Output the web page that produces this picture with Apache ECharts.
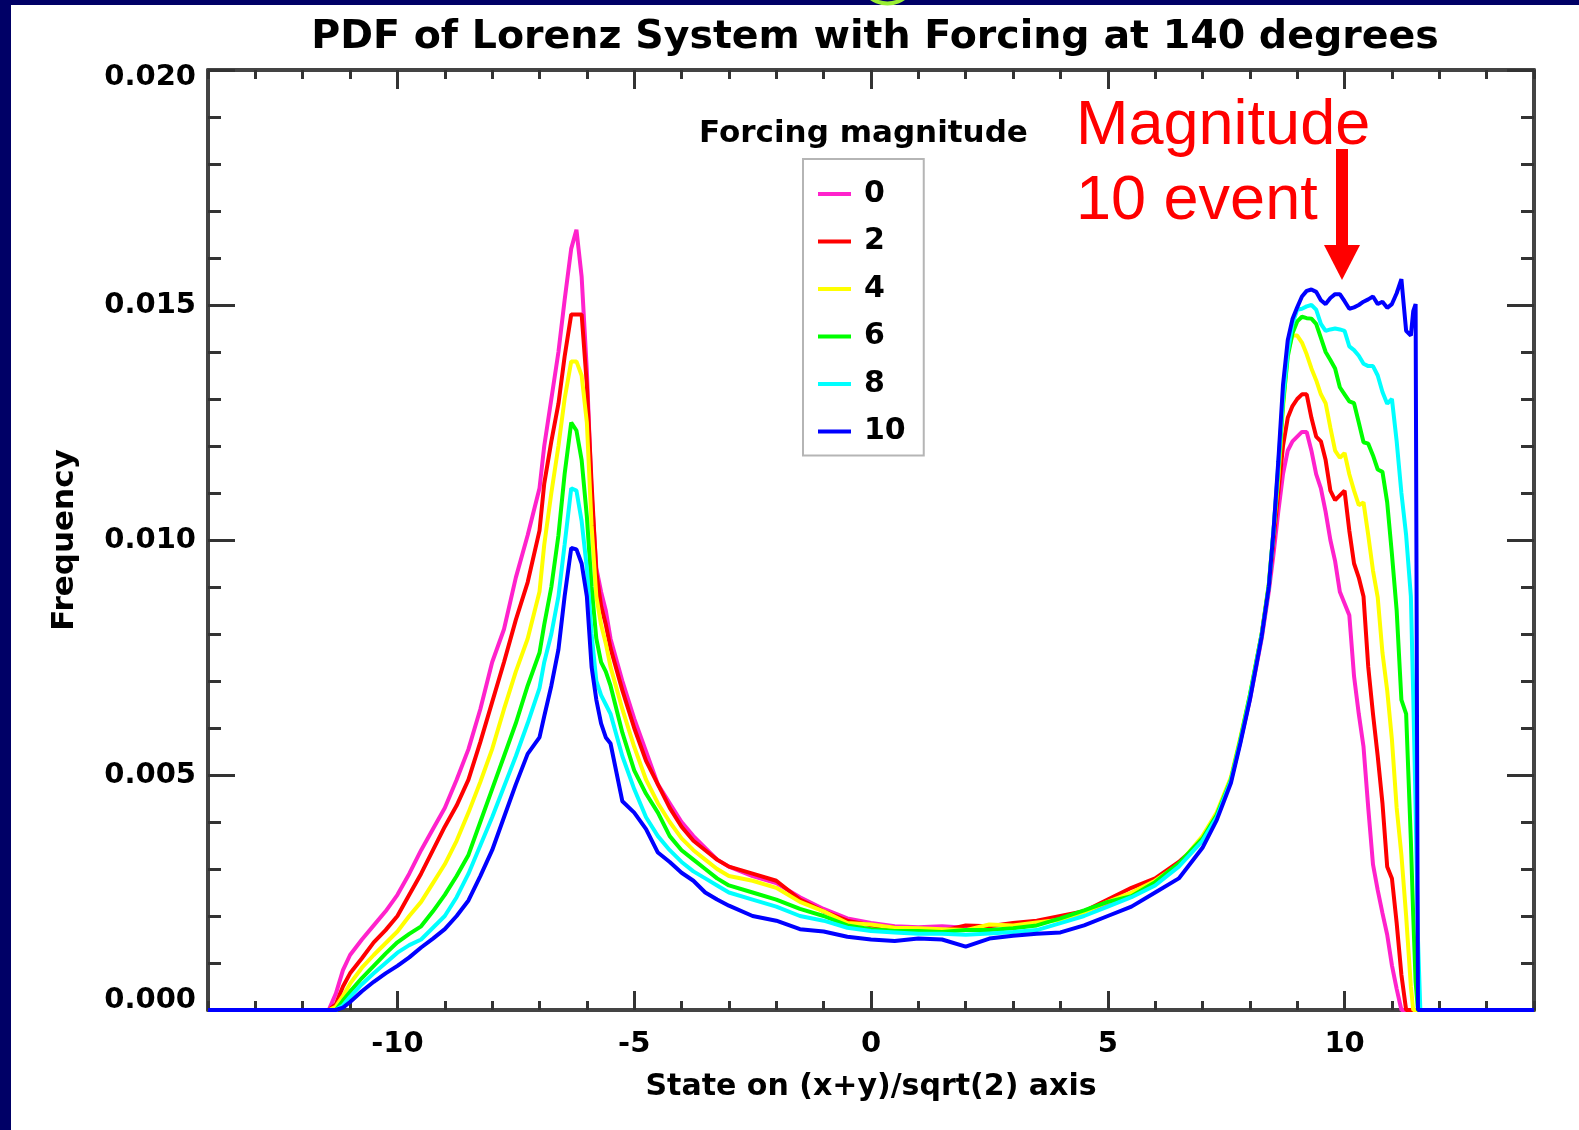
<!DOCTYPE html>
<html><head><meta charset="utf-8">
<script src="https://cdn.jsdelivr.net/npm/echarts@6/dist/echarts.min.js"></script>
<style>html,body{margin:0;padding:0;background:#fff;} #c{width:1579px;height:1130px;}</style>
</head><body><div id="c"></div>
<script>
// x positions (state on (x+y)/sqrt(2) axis)
const X = [-14,-11.45,-11.3,-11.15,-11.0,-10.75,-10.5,-10.25,-10.0,-9.75,-9.5,-9.25,-9.0,-8.75,-8.5,-8.25,-8.0,-7.75,-7.5,-7.25,-7.0,-6.9,-6.75,-6.6,-6.47,-6.33,-6.22,-6.11,-6.0,-5.9,-5.8,-5.7,-5.6,-5.5,-5.25,-5.0,-4.75,-4.5,-4.25,-4.0,-3.75,-3.5,-3.25,-3.0,-2.5,-2.0,-1.5,-1.0,-0.5,0,0.5,1.0,1.5,2.0,2.5,3.0,3.5,4.0,4.5,5.0,5.5,6.0,6.5,7.0,7.3,7.6,7.8,8.0,8.25,8.4,8.5,8.6,8.7,8.8,8.9,9.0,9.1,9.2,9.3,9.4,9.5,9.6,9.7,9.8,9.9,10.0,10.1,10.2,10.3,10.4,10.5,10.6,10.7,10.8,10.9,11.0,11.1,11.2,11.3,11.4,11.45,11.5,11.55,11.6,14];

// Frequency for each forcing magnitude
const force0 = [0,0,0.00035,0.00085,0.00117,0.0015,0.0018,0.0021,0.00245,0.0029,0.0034,0.00385,0.0043,0.0049,0.00555,0.0064,0.0074,0.0081,0.0092,0.0101,0.0111,0.012,0.013,0.014,0.0151,0.0162,0.0166,0.0156,0.0136,0.011,0.0094,0.0089,0.0085,0.0079,0.007,0.0062,0.0055,0.0048,0.0044,0.004,0.0037,0.00345,0.0032,0.00305,0.00285,0.0027,0.0024,0.00215,0.00195,0.00185,0.00178,0.00176,0.00178,0.00175,0.0018,0.00182,0.00185,0.00195,0.0021,0.00225,0.00245,0.00275,0.0031,0.00365,0.00415,0.0049,0.00572,0.0066,0.0079,0.0089,0.0097,0.0106,0.0114,0.0119,0.0121,0.0122,0.0123,0.0123,0.0119,0.0114,0.0111,0.0106,0.01,0.00955,0.0089,0.00865,0.0084,0.0071,0.0063,0.0056,0.0043,0.0031,0.00255,0.00206,0.0016,0.00095,0.00045,0,0,0,0,0,0,0,0];
const force2 = [0,0,0.00012,0.0005,0.00078,0.0011,0.00144,0.0017,0.002,0.00245,0.0029,0.0034,0.0039,0.00435,0.0049,0.0057,0.00655,0.0074,0.0083,0.0091,0.0102,0.0112,0.0121,0.0129,0.0139,0.0148,0.0148,0.0148,0.0133,0.0112,0.0093,0.0086,0.0082,0.0077,0.0068,0.006,0.0053,0.0048,0.0043,0.0039,0.0036,0.0034,0.0032,0.00305,0.0029,0.00275,0.00235,0.0021,0.0019,0.0018,0.00175,0.00172,0.00168,0.0018,0.00178,0.00185,0.0019,0.002,0.0021,0.00235,0.0026,0.0028,0.00315,0.0036,0.00415,0.0049,0.00575,0.00665,0.008,0.009,0.01,0.011,0.012,0.0126,0.01285,0.013,0.0131,0.0131,0.0126,0.0122,0.0121,0.0117,0.01105,0.01085,0.01095,0.01105,0.0102,0.0095,0.0092,0.0088,0.0073,0.0063,0.0054,0.0044,0.00305,0.0028,0.00185,0.00075,0,0,0,0,0,0,0];
const force4 = [0,0,0.00007,0.0003,0.00056,0.0009,0.00117,0.00142,0.00167,0.002,0.0023,0.0027,0.0031,0.0036,0.0042,0.00485,0.00555,0.0064,0.0072,0.0079,0.0089,0.0099,0.011,0.012,0.013,0.0138,0.0138,0.0135,0.0125,0.0103,0.0088,0.0082,0.0078,0.0073,0.0064,0.0056,0.0049,0.0044,0.004,0.00365,0.0034,0.0032,0.003,0.00285,0.00275,0.0026,0.0023,0.0021,0.00185,0.00182,0.00175,0.00174,0.00172,0.0017,0.00182,0.0018,0.00186,0.00192,0.00208,0.0023,0.0025,0.00275,0.0031,0.0037,0.0042,0.00495,0.0058,0.0067,0.008,0.00905,0.0102,0.0113,0.0128,0.014,0.01435,0.01435,0.0142,0.01395,0.01365,0.0134,0.0131,0.01291,0.01239,0.0119,0.01175,0.01185,0.0114,0.01105,0.01074,0.0108,0.0101,0.00935,0.00878,0.0076,0.0068,0.00575,0.0043,0.0033,0.002,0.0005,0,0,0,0,0];
const force6 = [0,0,0,0.0002,0.00039,0.00068,0.00094,0.0012,0.00144,0.00162,0.00178,0.0021,0.00245,0.00285,0.0033,0.004,0.0047,0.0054,0.0061,0.0069,0.0076,0.0082,0.009,0.0101,0.0114,0.0125,0.01233,0.0117,0.0105,0.009,0.0079,0.0074,0.0072,0.0069,0.0059,0.0051,0.0046,0.0042,0.0037,0.0034,0.0032,0.003,0.0028,0.00265,0.0025,0.00235,0.00215,0.002,0.0018,0.00172,0.00168,0.00168,0.00166,0.0017,0.0017,0.00174,0.0018,0.00195,0.00212,0.0023,0.00242,0.00272,0.00312,0.00365,0.00415,0.0049,0.00575,0.0067,0.008,0.00905,0.0102,0.0115,0.0129,0.0139,0.0144,0.01465,0.01475,0.01472,0.01471,0.0146,0.0143,0.014,0.01383,0.01365,0.01325,0.0131,0.01295,0.01291,0.0125,0.01208,0.01205,0.0118,0.0115,0.01145,0.0108,0.0097,0.0085,0.0066,0.0063,0.0036,0.002,0.0006,0,0,0];
const force8 = [0,0,0,0.0001,0.00028,0.00055,0.00078,0.001,0.00122,0.00138,0.0015,0.00175,0.002,0.0024,0.0029,0.0035,0.0041,0.00475,0.0054,0.0061,0.00685,0.0074,0.008,0.0088,0.0099,0.0111,0.01105,0.0104,0.0094,0.008,0.007,0.0067,0.0065,0.0063,0.0054,0.0047,0.0041,0.0037,0.0034,0.00315,0.00295,0.0028,0.00265,0.0025,0.00235,0.0022,0.002,0.0019,0.00175,0.00168,0.00165,0.00162,0.00162,0.0016,0.00163,0.00166,0.0017,0.00185,0.002,0.0022,0.0024,0.00265,0.00305,0.0036,0.0041,0.00488,0.00572,0.00665,0.00798,0.009,0.0102,0.0116,0.013,0.014,0.0146,0.0149,0.01492,0.01497,0.015,0.0149,0.0146,0.01445,0.01448,0.0145,0.01448,0.01445,0.01412,0.01404,0.01392,0.01375,0.0137,0.0137,0.0135,0.01315,0.0129,0.013,0.0121,0.011,0.0101,0.0088,0.0067,0.0043,0.0015,0,0];
const force10 = [0,0,0,0.00005,0.00017,0.0004,0.0006,0.00078,0.00094,0.00112,0.00133,0.00152,0.00172,0.002,0.00233,0.00285,0.0034,0.0041,0.0048,0.00545,0.0058,0.00625,0.0069,0.00767,0.0088,0.00983,0.0098,0.0095,0.0088,0.0073,0.0066,0.0061,0.0058,0.00567,0.00444,0.0042,0.00385,0.00335,0.00315,0.00292,0.00275,0.0025,0.00235,0.00222,0.002,0.0019,0.00172,0.00167,0.00156,0.0015,0.00147,0.00152,0.0015,0.00135,0.00152,0.00158,0.00162,0.00165,0.0018,0.002,0.0022,0.0025,0.0028,0.00345,0.00404,0.00483,0.00568,0.0066,0.00795,0.009,0.0102,0.01167,0.0133,0.01425,0.0147,0.01495,0.01518,0.0153,0.01533,0.01528,0.0151,0.01502,0.01515,0.01523,0.01523,0.01508,0.01492,0.01495,0.015,0.01507,0.01512,0.01518,0.01502,0.01507,0.01494,0.01502,0.01525,0.01555,0.01445,0.01435,0.01487,0.01502,0,0,0];

const magnitudes = ['0','2','4','6','8','10'];
const xTickValues = [-10,-5,0,5,10];
const yTickValues = [0,0.005,0.010,0.015,0.020];

const seriesData = [force0, force2, force4, force6, force8, force10];
const colors = ['#ff22cc','#ff0000','#ffff00','#00ff00','#00ffff','#0000ff'];

const FONT = 'DejaVu Sans';
const lblStyle = {fontFamily: FONT, fontWeight: 'bold', fontSize: 29, color: '#000'};
const axisLineStyle = {color: '#444', width: 4};
const tickStyle = {color: '#333', width: 3};

function xAx(pos, len, major, labels, extra) {
  return Object.assign({
    type: 'value', min: -14, max: 14, interval: 1, position: pos, offset: 0,
    gridIndex: 0,
    axisLine: {show: !major, onZero: false, lineStyle: axisLineStyle},
    axisTick: major ? {show: true, inside: true, length: len, customValues: xTickValues, lineStyle: tickStyle}
                    : {show: true, inside: true, length: len, lineStyle: tickStyle},
    axisLabel: labels ? Object.assign({show: true, customValues: xTickValues, margin: 20,
      formatter: v => String(v)}, lblStyle) : {show: false},
    splitLine: {show: false}
  }, extra || {});
}
function yAx(pos, len, major, labels, extra) {
  return Object.assign({
    type: 'value', min: 0, max: 0.02, interval: 0.001, position: pos, offset: 0,
    gridIndex: 0,
    axisLine: {show: !major, onZero: false, lineStyle: axisLineStyle},
    axisTick: major ? {show: true, inside: true, length: len, customValues: yTickValues, lineStyle: tickStyle}
                    : {show: true, inside: true, length: len, lineStyle: tickStyle},
    axisLabel: labels ? Object.assign({show: true, customValues: yTickValues, margin: 12,
      formatter: v => {
        const s = v.toFixed(3);
        if (Math.abs(v) < 1e-9) return '{lo|' + s + '}';
        if (Math.abs(v - 0.02) < 1e-9) return '{hi|' + s + '}';
        return '{n|' + s + '}';
      },
      rich: {
        lo: Object.assign({padding: [0, 0, 20, 0]}, lblStyle),
        hi: Object.assign({padding: [15, 0, 0, 0]}, lblStyle),
        n: Object.assign({}, lblStyle)
      }}, lblStyle) : {show: false},
    splitLine: {show: false}
  }, extra || {});
}

const chart = echarts.init(document.getElementById('c'), null, {renderer: 'canvas'});
chart.setOption({
  animation: false,
  backgroundColor: '#ffffff',
  title: {
    text: 'PDF of Lorenz System with Forcing at 140 degrees',
    left: 870, top: 13, textAlign: 'center',
    textStyle: {fontFamily: FONT, fontWeight: 'bold', fontSize: 39.5, color: '#000'}
  },
  grid: {left: 208, top: 70, width: 1326, height: 940, outerBoundsMode: 'none', containLabel: false},
  legend: {
    orient: 'vertical', left: 803, top: 159,
    padding: [20, 18, 9, 15],
    itemWidth: 33, itemHeight: 4, itemGap: 17.5, icon: 'rect',
    borderColor: '#b5b5b5', borderWidth: 2, selectedMode: false,
    textStyle: {fontFamily: FONT, fontWeight: 'bold', fontSize: 30, color: '#000', lineHeight: 30, padding: [0, 0, 0, 8]},
    data: magnitudes
  },
  xAxis: [
    xAx('bottom', 9, false, true, {
      name: 'State on (x+y)/sqrt(2) axis', nameLocation: 'middle', nameGap: 62,
      nameTextStyle: {fontFamily: FONT, fontWeight: 'bold', fontSize: 30, color: '#000'}
    }),
    xAx('bottom', 19, true, false),
    xAx('top', 9, false, false),
    xAx('top', 19, true, false)
  ],
  yAxis: [
    yAx('left', 13, false, true, {
      name: 'Frequency', nameLocation: 'middle', nameGap: 128, nameRotate: 90,
      nameTextStyle: {fontFamily: FONT, fontWeight: 'bold', fontSize: 31, color: '#000'}
    }),
    yAx('left', 27, true, false),
    yAx('right', 13, false, false),
    yAx('right', 27, true, false)
  ],
  series: seriesData.map((arr, i) => ({
    name: magnitudes[i], type: 'line', xAxisIndex: 0, yAxisIndex: 0,
    data: X.map((x, j) => [x, arr[j]]),
    showSymbol: false, symbol: 'none',
    color: colors[i],
    lineStyle: {width: 4, color: colors[i]},
    itemStyle: {color: colors[i]},
    z: 3 + i
  })),
  graphic: [
    {type: 'rect', shape: {x: 0, y: 0, width: 11, height: 1130}, style: {fill: '#000066'}, z: 100},
    {type: 'rect', shape: {x: 0, y: 0, width: 1579, height: 5}, style: {fill: '#000066'}, z: 100},
    {type: 'ring', shape: {cx: 887.5, cy: -25, r: 30.5, r0: 26.5}, style: {fill: '#99ee33'}, z: 101},
    {type: 'text', x: 863.5, y: 134, z: 50,
     style: {text: 'Forcing magnitude', fontFamily: FONT, fontWeight: 'bold', fontSize: 31, fill: '#000', align: 'center', verticalAlign: 'middle'}},
    {type: 'text', x: 1076, y: 127, z: 50,
     style: {text: 'Magnitude', fontFamily: 'Liberation Sans', fontSize: 63, fill: '#ff0000', align: 'left', verticalAlign: 'middle'}},
    {type: 'text', x: 1076, y: 202, z: 50,
     style: {text: '10 event', fontFamily: 'Liberation Sans', fontSize: 63, fill: '#ff0000', align: 'left', verticalAlign: 'middle'}},
    {type: 'rect', shape: {x: 1336, y: 149, width: 12, height: 97}, style: {fill: '#ff0000'}, z: 50},
    {type: 'polygon', shape: {points: [[1324, 245], [1360, 245], [1342, 280]]}, style: {fill: '#ff0000'}, z: 50}
  ]
});
</script>
</body></html>
